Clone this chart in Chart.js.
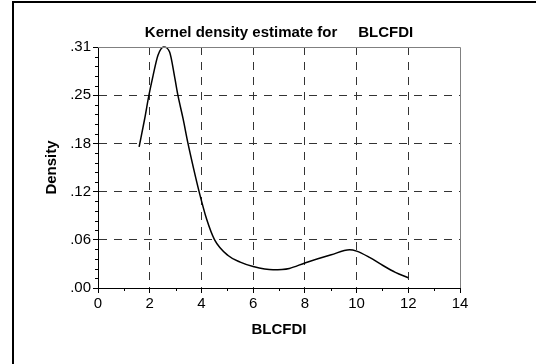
<!DOCTYPE html>
<html>
<head>
<meta charset="utf-8">
<script src="https://cdn.jsdelivr.net/npm/chart.js@4"></script>
<style>
  html, body { margin: 0; padding: 0; background: #fff; }
  #wrap { width: 536px; height: 364px; }
</style>
</head>
<body>
<div id="wrap"><canvas id="kdeChart" width="536" height="364"></canvas></div>
<script>
// density curve
const xValues = [1.59, 1.8, 1.97, 2.13, 2.32, 2.54, 2.77, 2.97, 3.09, 3.29, 3.48, 3.7, 3.91, 4.2, 4.51, 5.03, 5.5, 6.0, 6.77, 7.4, 8.0, 9.02, 9.73, 10.0, 10.5, 11.02, 11.5, 12.0];
const densityValues = [0.180, 0.215, 0.246, 0.271, 0.297, 0.3075, 0.301, 0.268, 0.246, 0.216, 0.1845, 0.152, 0.123, 0.088, 0.0615, 0.0415, 0.033, 0.0274, 0.0232, 0.025, 0.032, 0.0424, 0.0488, 0.047, 0.039, 0.0287, 0.02, 0.013];

// axis ticks
const xTicks = [0, 2, 4, 6, 8, 10, 12, 14];
const xMinorTicks = [1, 3, 5, 7, 9, 11, 13];
const yTicks = [0, 0.0615, 0.123, 0.1845, 0.246, 0.3075];
const yTickLabels = [".00", ".06", ".12", ".18", ".25", ".31"];

const chartTitle = "Kernel density estimate for     BLCFDI";
const xTitle = "BLCFDI";
const yTitle = "Density";

const fontFamily = "'Liberation Sans', Arial, sans-serif";

// outer frame, plot box, title centred on the plot, minor ticks
const frameAndMinorTicks = {
    id: "frameAndMinorTicks",
    beforeDraw: (chart) => {
        const ctx = chart.ctx;
        ctx.save();
        ctx.strokeStyle = "#000";
        ctx.lineWidth = 2;
        ctx.beginPath();
        ctx.moveTo(13, chart.height);
        ctx.lineTo(13, 2);
        ctx.lineTo(chart.width, 2);
        ctx.stroke();
        ctx.restore();
    },
    afterDraw: (chart) => {
        const {ctx, chartArea} = chart;
        const xs = chart.scales.x;
        const ys = chart.scales.y;
        ctx.save();
        ctx.strokeStyle = "#808080";
        ctx.lineWidth = 1;
        ctx.beginPath();
        ctx.moveTo(chartArea.left, Math.round(chartArea.top) + 0.5);
        ctx.lineTo(Math.round(chartArea.right) + 0.5, Math.round(chartArea.top) + 0.5);
        ctx.lineTo(Math.round(chartArea.right) + 0.5, chartArea.bottom);
        ctx.stroke();

        ctx.strokeStyle = "#000";
        ctx.beginPath();
        xMinorTicks.forEach(v => {
            const px = Math.round(xs.getPixelForValue(v)) + 0.5;
            ctx.moveTo(px, chartArea.bottom);
            ctx.lineTo(px, chartArea.bottom + 3);
        });
        for (let i = 0; i < yTicks.length - 1; i++) {
            const step = (yTicks[i + 1] - yTicks[i]) / 5;
            for (let k = 1; k < 5; k++) {
                const py = Math.round(ys.getPixelForValue(yTicks[i] + step * k)) + 0.5;
                ctx.moveTo(chartArea.left, py);
                ctx.lineTo(chartArea.left - 3, py);
            }
        }
        ctx.stroke();

        ctx.fillStyle = "#000";
        ctx.font = "bold 15px " + fontFamily;
        ctx.textAlign = "center";
        ctx.textBaseline = "middle";
        ctx.fillText(chartTitle, (chartArea.left + chartArea.right) / 2, 33);
        ctx.restore();
    }
};

const gridColor = (edgeValues) => (c) => {
    if (!c.tick) return "transparent";
    return edgeValues.includes(c.tick.value) ? "transparent" : "#333";
};

new Chart(document.getElementById("kdeChart").getContext("2d"), {
    type: "scatter",
    data: {
        datasets: [{
            data: xValues.map((x, i) => ({x: x, y: densityValues[i]})),
            showLine: true,
            borderColor: "#000",
            borderWidth: 1.5,
            pointRadius: 0,
            cubicInterpolationMode: "monotone",
            clip: false,
        }]
    },
    plugins: [frameAndMinorTicks],
    options: {
        responsive: false,
        animation: false,
        layout: {
            padding: {left: 0, right: 76, top: 47, bottom: 0},
        },
        plugins: {
            legend: {display: false},
            tooltip: {enabled: false},
            title: {display: false},
        },
        scales: {
            x: {
                type: "linear",
                min: 0,
                max: 14,
                afterFit: (scale) => { scale.height = 76; },
                afterBuildTicks: (scale) => { scale.ticks = xTicks.map(v => ({value: v})); },
                ticks: {
                    color: "#000",
                    font: {family: fontFamily, size: 15},
                    padding: 2,
                    maxRotation: 0,
                    callback: (v) => String(v),
                },
                grid: {
                    color: gridColor([0, 14]),
                    lineWidth: 1,
                    tickLength: 5,
                    tickColor: "#000",
                    tickBorderDash: [],
                },
                border: {display: true, color: "#000", width: 1, dash: [8, 7]},
                title: {
                    display: true,
                    text: xTitle,
                    color: "#000",
                    font: {family: fontFamily, size: 15, weight: "bold"},
                    padding: {top: 0, bottom: 25},
                },
            },
            y: {
                type: "linear",
                min: 0,
                max: 0.3075,
                afterFit: (scale) => { scale.width = 98; },
                afterBuildTicks: (scale) => { scale.ticks = yTicks.map(v => ({value: v})); },
                ticks: {
                    color: "#000",
                    font: {family: fontFamily, size: 15},
                    padding: 2,
                    callback: (v, i) => yTickLabels[i],
                },
                grid: {
                    color: gridColor([0, 0.3075]),
                    lineWidth: 1,
                    tickLength: 5,
                    tickColor: "#000",
                    tickBorderDash: [],
                },
                border: {display: true, color: "#000", width: 1, dash: [8, 7]},
                title: {
                    display: true,
                    text: yTitle,
                    color: "#000",
                    font: {family: fontFamily, size: 15, weight: "bold"},
                    padding: {top: 43, bottom: 0},
                },
            },
        },
    },
});
</script>
</body>
</html>
